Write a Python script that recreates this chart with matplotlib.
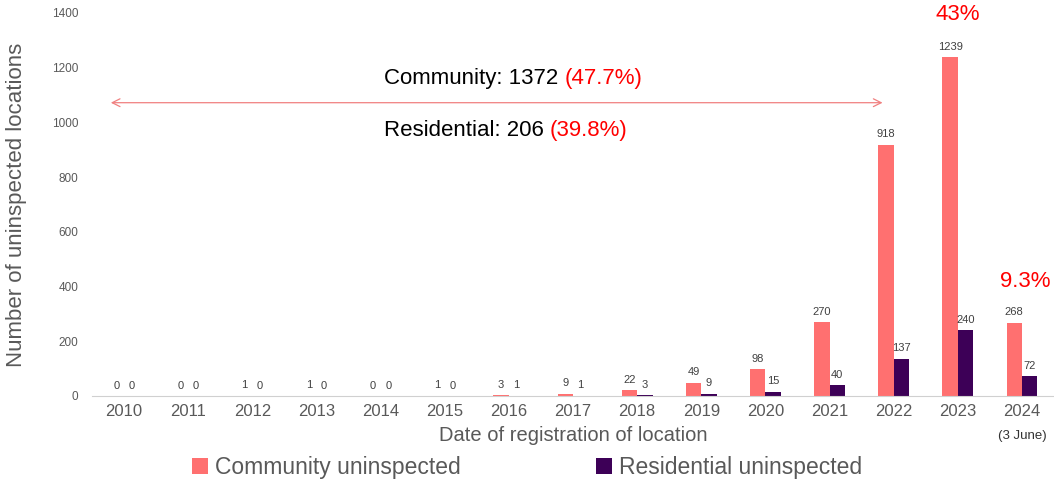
import numpy as np
import matplotlib.pyplot as plt

plt.rcParams["font.family"] = ["Liberation Sans", "DejaVu Sans"]

years = ["2010", "2011", "2012", "2013", "2014", "2015", "2016", "2017",
         "2018", "2019", "2020", "2021", "2022", "2023", "2024"]
community = [0, 0, 1, 1, 0, 1, 3, 9, 22, 49, 98, 270, 918, 1239, 268]
residential = [0, 0, 0, 0, 0, 0, 1, 1, 3, 9, 15, 40, 137, 240, 72]

red = "#ff7070"
purple = "#3d0057"
grey = "#595959"

fig = plt.figure(figsize=(10.54, 4.8), dpi=100)
ax = fig.add_axes([92 / 1054, 0.175, 962 / 1054, 0.798])

x = np.arange(len(years))
w = 0.24
b1 = ax.bar(x - w / 2, community, w, color=red, label="Community uninspected")
b2 = ax.bar(x + w / 2, residential, w, color=purple, label="Residential uninspected")

for rects, vals in ((b1, community), (b2, residential)):
    for r, v in zip(rects, vals):
        ax.text(r.get_x() + r.get_width() / 2, v + 20, str(v), ha="center",
                va="bottom", fontsize=8, color="#404040")

ax.set_xlim(-0.5, len(years) - 0.5)
ax.set_ylim(0, 1400)
ax.set_yticks(range(0, 1401, 200))
ax.set_xticks(x)
ax.set_xticklabels(years)
ax.tick_params(axis="y", length=0, labelsize=8.5, colors=grey, pad=10)
ax.tick_params(axis="x", length=0, labelsize=12, colors=grey, pad=6)
for s in ("top", "right", "left"):
    ax.spines[s].set_visible(False)
ax.spines["bottom"].set_color("#d0d0d0")

ax.set_ylabel("Number of uninspected locations", fontsize=16, color=grey, labelpad=18)
ax.set_xlabel("Date of registration of location", fontsize=14.5, color=grey, labelpad=5)
ax.text(14, -145, "(3 June)", ha="center", va="center", fontsize=9.5, color="#333333")

# arrow + summary
ax.annotate("", xy=(-0.25, 1072), xytext=(11.87, 1072),
            arrowprops=dict(arrowstyle="<->", color="#f08080", lw=0.9,
                            mutation_scale=14))
t1 = ax.text(4.05, 1162, "Community: 1372 ", ha="left", va="center", fontsize=16, color="black")
ax.annotate("(47.7%)", xy=(1, 0.5), xycoords=t1, ha="left", va="center",
            fontsize=16, color="red")
t2 = ax.text(4.05, 970, "Residential: 206 ", ha="left", va="center", fontsize=16, color="black")
ax.annotate("(39.8%)", xy=(1, 0.5), xycoords=t2, ha="left", va="center",
            fontsize=16, color="red")

ax.text(13, 1395, "43%", ha="center", va="center", fontsize=16, color="red", clip_on=False)
ax.text(14.05, 420, "9.3%", ha="center", va="center", fontsize=16, color="red", clip_on=False)

fig.legend(loc="lower center", bbox_to_anchor=(0.5, -0.04), ncol=2, frameon=False,
           fontsize=16.5, labelcolor=grey, handlelength=0.7, handleheight=0.7,
           handletextpad=0.3, columnspacing=5.9)

fig.savefig("out.png", dpi=100)
